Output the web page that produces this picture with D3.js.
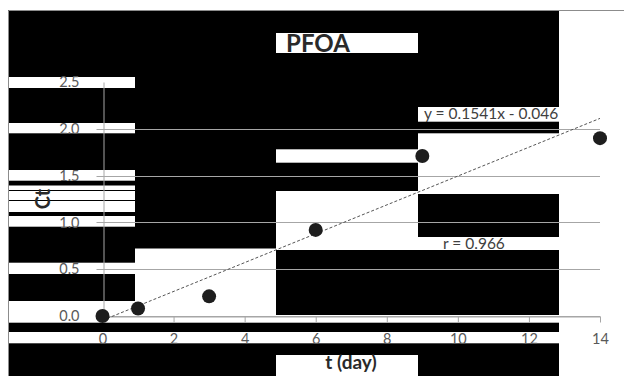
<!DOCTYPE html>
<html>
<head>
<meta charset="utf-8">
<script src="https://cdn.jsdelivr.net/npm/d3@7"></script>
<style>
  html, body { margin: 0; padding: 0; background: #fff; }
  svg { display: block; }
  text { font-family: Lato, "Liberation Sans", sans-serif; }
</style>
</head>
<body>
<svg id="chart" width="624" height="376"></svg>
<script>
// Measured concentration over time
const days = [0, 1, 3, 6, 9, 14];
const conc = [0, 0.08, 0.21, 0.92, 1.71, 1.9];
const xTicks = [0, 2, 4, 6, 8, 10, 12, 14];
const yTicks = [0, 0.5, 1.0, 1.5, 2.0, 2.5];
const gridValues = [0, 0.5, 1.0, 1.5, 2.0];
const fitSlope = 0.1541;
const fitIntercept = -0.046;
const fitR = 0.966;
const titleText = "PFOA";
const xTitle = "t (day)";
const yTitle = "Ct";

// Dark panels behind the plot, one list of vertical bands per column strip
const panelCols = [
  { x0: 8,   x1: 135, bands: [[10,77],[88,123],[133.3,170],[180.7,185.5],[190,191],[200,201],[212,216],[226.7,262.7],[274,301],[322.7,332],[343.3,376]] },
  { x0: 135, x1: 276, bands: [[10,248.5],[322.7,332],[343.3,376]] },
  { x0: 276, x1: 418, bands: [[10,33],[53,149.3],[162.7,191],[250,315],[322.7,332],[343.3,355]] },
  { x0: 418, x1: 559, bands: [[10,107],[121.7,133.3],[194,237],[250,315],[322.7,332],[343.3,376]] }
];

const svg = d3.select("#chart");
const W = 624, H = 376;

svg.append("rect").attr("width", W).attr("height", H).attr("fill", "#fff");

const panels = svg.append("g");
panelCols.forEach(c => {
  panels.selectAll(null).data(c.bands).enter().append("rect")
    .attr("x", c.x0).attr("width", c.x1 - c.x0)
    .attr("y", d => d[0]).attr("height", d => d[1] - d[0])
    .attr("fill", "#000");
});

// chart frame
svg.append("path")
  .attr("d", "M8.5,376 L8.5,10.5 L624,10.5")
  .attr("fill", "none").attr("stroke", "#8c8c8c").attr("stroke-width", 1);

const x = d3.scaleLinear().domain([0, 14]).range([102.5, 600]);
const y = d3.scaleLinear().domain([0, 2.5]).range([316, 82]);

// horizontal gridlines
svg.append("g").selectAll("line").data(gridValues).enter().append("line")
  .attr("x1", x(0) - 6).attr("x2", x(14))
  .attr("y1", d => Math.round(y(d)) + 0.5).attr("y2", d => Math.round(y(d)) + 0.5)
  .attr("stroke", "#a6a6a6").attr("stroke-width", 1);

// y axis
const yAxis = svg.append("g")
  .attr("transform", `translate(${Math.round(x(0)) + 0.5},0)`)
  .call(d3.axisLeft(y).tickValues(yTicks).tickFormat(d3.format(".1f"))
    .tickSize(0).tickPadding(24));
yAxis.select(".domain").attr("stroke", "#a6a6a6");
yAxis.selectAll("text").attr("fill", "#595959").attr("font-size", 14.5);

// x axis
const xAxis = svg.append("g")
  .attr("transform", `translate(0,${Math.round(y(0)) + 0.5})`)
  .call(d3.axisBottom(x).tickValues(xTicks).tickFormat(d3.format("d"))
    .tickSizeInner(6).tickSizeOuter(0).tickPadding(11));
xAxis.select(".domain").attr("stroke", "#a6a6a6");
xAxis.selectAll(".tick line").attr("stroke", "#a6a6a6");
xAxis.selectAll("text").attr("fill", "#595959").attr("font-size", 14.5);

// linear fit
svg.append("line")
  .attr("x1", x(0)).attr("y1", y(fitIntercept))
  .attr("x2", x(14)).attr("y2", y(fitSlope * 14 + fitIntercept))
  .attr("stroke", "#555").attr("stroke-width", 1)
  .attr("stroke-dasharray", "3,2");

// measured points
svg.append("g").selectAll("circle").data(days).enter().append("circle")
  .attr("cx", (d) => x(d)).attr("cy", (d, i) => y(conc[i]))
  .attr("r", 7).attr("fill", "#1e1e1e");

// titles and annotations
svg.append("text").attr("x", 318).attr("y", 52)
  .attr("text-anchor", "middle").attr("font-size", 24).attr("font-weight", "bold")
  .attr("fill", "#2a2a2a").text(titleText);

svg.append("text").attr("x", 351).attr("y", 369)
  .attr("text-anchor", "middle").attr("font-size", 19).attr("font-weight", "bold")
  .attr("fill", "#2a2a2a").text(xTitle);

svg.append("text")
  .attr("transform", "translate(50,199) rotate(-90)")
  .attr("text-anchor", "middle").attr("font-size", 20).attr("font-weight", "bold")
  .attr("fill", "#2a2a2a").text(yTitle);

svg.append("text").attr("x", 424).attr("y", 119)
  .attr("font-size", 15.5).attr("fill", "#404040")
  .text(`y = ${fitSlope}x - ${Math.abs(fitIntercept)}`);

svg.append("text").attr("x", 443).attr("y", 249)
  .attr("font-size", 15.5).attr("fill", "#404040")
  .text(`r = ${fitR}`);
</script>
</body>
</html>
